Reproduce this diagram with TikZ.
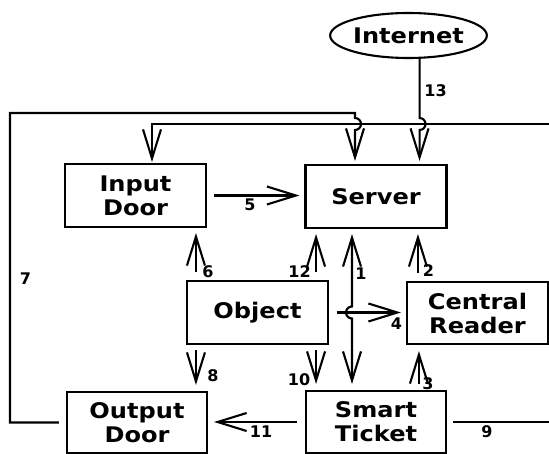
\documentclass[tikz,border=0pt]{standalone}
\usepackage{fontspec}
\setmainfont{DejaVu Sans}
\newfontfamily\boxfont{DejaVu Sans}[FakeStretch=1.12]
\newfontfamily\numfont{DejaVu Sans}
\usetikzlibrary{arrows.meta,calc,shapes.geometric}
\tikzset{
  boxnode/.style={draw, line width=2.1pt, minimum width=140pt, minimum height=62pt,
    inner sep=0pt, align=center, font=\boxfont\bfseries\fontsize{21.5}{24}\selectfont},
  lbl/.style={inner sep=0pt, font=\numfont\bfseries\fontsize{16}{18}\selectfont},
  con/.style={line width=2.1pt},
  arr/.style={con, -{Straight Barb[length=29pt, width=18pt]}},
  arrboth/.style={con, {Straight Barb[length=29pt, width=18pt]}-{Straight Barb[length=29pt, width=18pt]}},
}
\begin{document}
\begin{tikzpicture}[x=1pt, y=-1pt]
\useasboundingbox (0,0) rectangle (549,454);
% nodes
\node[boxnode, minimum width=141pt, minimum height=63pt] (inp) at (135.5,195.5) {Input\\Door};
\node[boxnode, minimum width=141pt, minimum height=63pt] (srv) at (376,196.5) {Server};
\node[boxnode, minimum width=141pt, minimum height=63pt] (obj) at (257.5,312.5) {Object};
\node[boxnode, minimum width=141pt] (crd) at (477.5,313) {Central\\Reader};
\node[boxnode, minimum width=140pt, minimum height=61pt] (out) at (137,422.5) {Output\\Door};
\node[boxnode, minimum width=140pt] (st) at (376,422) {Smart\\Ticket};
\node[draw, ellipse, line width=2.1pt, minimum width=147pt, minimum height=45pt, inner sep=0pt,
  font=\boxfont\bfseries\fontsize{21.5}{24}\selectfont] (inet) at (408.5,35.5) {Internet};
% helper coordinates
\coordinate (hop) at (0,124);
\coordinate (L7) at (10,113);
\coordinate (R) at (549,0);
\coordinate (c13) at ($(srv.north east)+(-28,-3)$);
\coordinate (c7) at ($(srv.north)+(-21,-3)$);
\coordinate (c9) at ($(inp.north)+(16.5,-1)$);
% 13 Internet -> Server
\draw[arr] (inet.south -| c13) -- ($(c13 |- hop)+(0,-6)$)
  arc[start angle=90, end angle=-90, radius=6pt] -- (c13);
% 7 Output Door -> Server (around left)
\draw[arr] ($(out.west)+(-7,0)$) -- (out.west -| L7) -- (L7) -- (L7 -| c7)
  -- ($(c7 |- hop)+(0,-6)$) arc[start angle=90, end angle=-90, radius=6pt] -- (c7);
% 9 Smart Ticket -> right edge, return to Input Door
\draw[con] ($(st.east)+(6,0)$) -- (st.east -| R);
\draw[arr] (R |- hop) -- (hop -| c9) -- (c9);
% 5 Input Door -> Server
\draw[arr] ($(inp.east)+(7,0)$) -- ($(inp.east -| srv.west)+(-5,0)$);
% 6 Object -> Input Door
\draw[arr] ($(obj.north west)+(10,-8)$) -- ($(obj.north west |- inp.south)+(10,5)$);
% 12 Object -> Server
\draw[arr] ($(obj.north east)+(-13,-8)$) -- ($(obj.north east |- srv.south)+(-13,5)$);
% 1 Server <-> Smart Ticket (hop over line 4)
\draw[arrboth] ($(st.north)+(-24,-6)$) -- ($(st.north |- obj.east)+(-24,6)$)
  arc[start angle=270, end angle=90, radius=6pt] -- ($(srv.south)+(-24,5)$);
% 2 Central Reader -> Server
\draw[arr] ($(crd.north west)+(12,-8)$) -- ($(crd.north west |- srv.south)+(12,5)$);
% 4 Object -> Central Reader
\draw[arr] ($(obj.east)+(8,0)$) -- ($(obj.east -| crd.west)+(-5,0)$);
% 8 Object -> Output Door
\draw[arr] ($(obj.south west)+(10,5)$) -- ($(obj.south west |- out.north)+(10,-6)$);
% 10 Object -> Smart Ticket
\draw[arr] ($(obj.south east)+(-13,5)$) -- ($(obj.south east |- st.north)+(-13,-6)$);
% 3 Smart Ticket -> Central Reader
\draw[arr] ($(crd.south west |- st.north)+(13,-6)$) -- ($(crd.south west)+(13,6)$);
% 11 Smart Ticket -> Output Door
\draw[arr] ($(st.west)+(-8,0)$) -- ($(st.west -| out.east)+(6,0)$);
% labels
\node[lbl] (l13) at (435.5,91) {13};
\node[lbl] (l5) at (250,205) {5};
\node[lbl] (l6) at (208,272) {6};
\node[lbl] (l12) at (299.5,272) {12};
\node[lbl] (l1) at (361,274) {1};
\node[lbl] (l2) at (428.5,271) {2};
\node[lbl] (l4) at (396.5,323.5) {4};
\node[lbl] (l8) at (213,376) {8};
\node[lbl] (l10) at (299,380) {10};
\node[lbl] (l3) at (428,384) {3};
\node[lbl] (l11) at (261,432) {11};
\node[lbl] (l9) at (487,432) {9};
\node[lbl] (l7) at (25.5,279) {7};
\end{tikzpicture}
\end{document}
